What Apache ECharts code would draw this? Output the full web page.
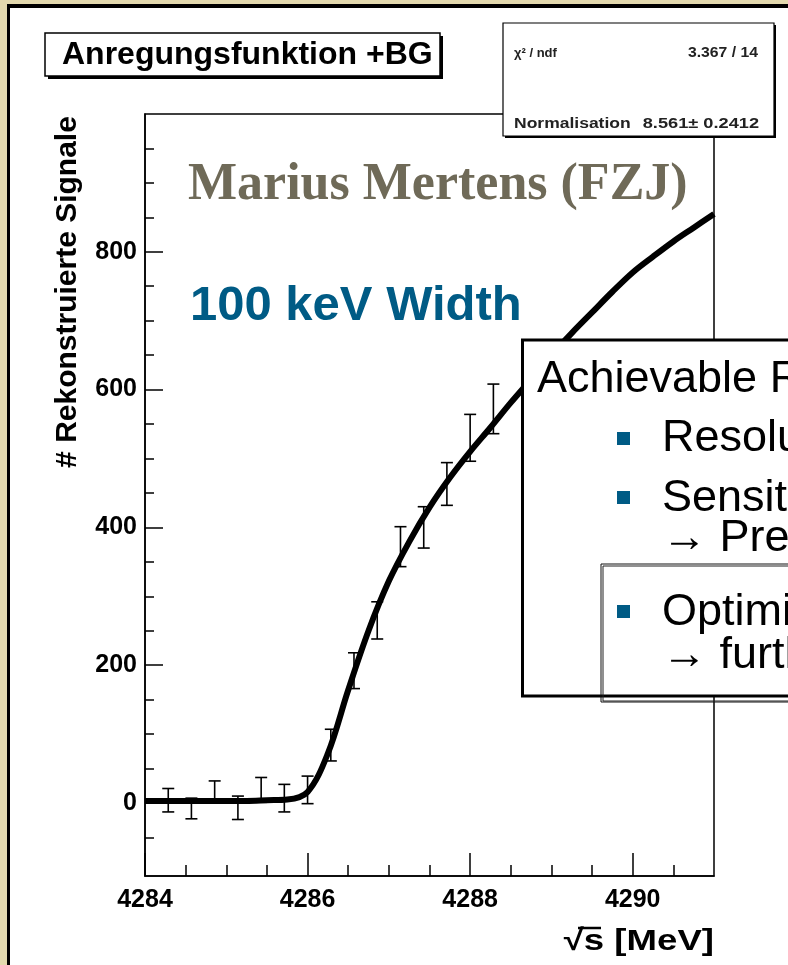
<!DOCTYPE html>
<html>
<head>
<meta charset="utf-8">
<script src="https://cdn.jsdelivr.net/npm/echarts@6/dist/echarts.min.js"></script>
<style>
  html, body { margin: 0; padding: 0; background: #fff; }
  #chart { width: 788px; height: 965px; }
</style>
</head>
<body>
<div id="chart"></div>
<script>
// Measured excitation function: beam energy sqrt(s) [MeV], reconstructed signals, errors
const energies = [4284.286, 4284.571, 4284.857, 4285.143, 4285.429, 4285.714, 4286.0,
                  4286.286, 4286.571, 4286.857, 4287.143, 4287.429, 4287.714, 4288.0, 4288.286];
const signals  = [4, -8, 16, -7, 19, 7, 19, 84, 192, 265, 372, 400, 463, 530, 572];
const errors   = [17, 15, 16, 17, 18, 20, 20, 23, 26, 27, 29, 30, 31, 34, 36];

// Fitted excitation function + background, sampled every 0.25 MeV
const fitEnergies = [4284.0, 4284.25, 4284.5, 4284.75, 4285.0, 4285.25, 4285.5, 4285.75,
                     4286.0, 4286.25, 4286.5, 4286.75, 4287.0, 4287.25, 4287.5, 4287.75,
                     4288.0, 4288.25, 4288.5, 4288.75, 4289.0, 4289.25, 4289.5, 4289.75,
                     4290.0, 4290.25, 4290.5, 4290.75, 4291.0];
const fitValues   = [3, 3, 3, 3, 3, 3, 4, 5,
                     16, 72, 164, 250, 322, 379, 429, 472,
                     510, 545, 581, 615, 650, 682, 712, 742,
                     770, 793, 815, 835, 855];

// Axis ticks
const xMajorTicks = [4284, 4286, 4288, 4290];
const xMinorTicks = [4284.5, 4285, 4285.5, 4286.5, 4287, 4287.5, 4288.5, 4289, 4289.5, 4290.5];
const yMajorTicks = [0, 200, 400, 600, 800];
const yMinorTicks = [-50, 50, 100, 150, 250, 300, 350, 450, 500, 550, 650, 700, 750, 850, 900, 950];

const X_MIN = 4284, X_MAX = 4291, Y_MIN = -106, Y_MAX = 1000;

const TEAL = '#005b85';
const SANS = 'Liberation Sans, Arial, Helvetica, sans-serif';
const SERIF = 'Liberation Serif, Times New Roman, serif';

const chart = echarts.init(document.getElementById('chart'), null, { renderer: 'canvas' });

const tickFont = { fontFamily: SANS, fontWeight: 'bold', fontSize: 25, color: '#000',
                   formatter: function (v) { return String(v); } };

function majorAxis(extra) {
  return Object.assign({
    type: 'value',
    axisLine: { show: true, onZero: false, lineStyle: { color: '#000', width: 1.5 } },
    splitLine: { show: false },
  }, extra);
}

function minorAxis(extra) {
  return Object.assign({
    type: 'value',
    axisLine: { show: false, onZero: false },
    splitLine: { show: false },
    axisLabel: { show: false }
  }, extra);
}

const errorData = energies.map((e, i) => [e, signals[i], errors[i]]);
const fitData = fitEnergies.map((e, i) => [e, fitValues[i]]);

const option = {
  backgroundColor: '#fff',
  animation: false,
  grid: {
    left: 145, right: 74, top: 114, bottom: 89,
    show: true, borderColor: '#000', borderWidth: 1.5, backgroundColor: 'transparent'
  },
  xAxis: [
    majorAxis({
      min: X_MIN, max: X_MAX, position: 'bottom',
      axisTick: { show: true, inside: true, length: 23, customValues: xMajorTicks,
                  lineStyle: { color: '#000', width: 1.5 } },
      axisLabel: Object.assign({ show: true, margin: 12, customValues: xMajorTicks }, tickFont)
    }),
    minorAxis({
      min: X_MIN, max: X_MAX, position: 'bottom',
      axisTick: { show: true, inside: true, length: 11, customValues: xMinorTicks,
                  lineStyle: { color: '#000', width: 1.5 } }
    })
  ],
  yAxis: [
    majorAxis({
      min: Y_MIN, max: Y_MAX, position: 'left',
      axisTick: { show: true, inside: true, length: 18, customValues: yMajorTicks,
                  lineStyle: { color: '#000', width: 1.5 } },
      axisLabel: Object.assign({ show: true, margin: 8, customValues: yMajorTicks }, tickFont)
    }),
    minorAxis({
      min: Y_MIN, max: Y_MAX, position: 'left',
      axisTick: { show: true, inside: true, length: 9, customValues: yMinorTicks,
                  lineStyle: { color: '#000', width: 1.5 } }
    })
  ],
  series: [
    {
      name: 'Fit',
      type: 'line',
      xAxisIndex: 0, yAxisIndex: 0,
      data: fitData,
      smooth: 0.35,
      showSymbol: false,
      lineStyle: { color: '#000', width: 6 },
      z: 3
    },
    {
      name: 'Data',
      type: 'custom',
      xAxisIndex: 0, yAxisIndex: 0,
      data: errorData,
      z: 4,
      renderItem: function (params, api) {
        const x = api.value(0), y = api.value(1), err = api.value(2);
        const top = api.coord([x, y + err]);
        const bot = api.coord([x, y - err]);
        const cap = 6;
        const st = { stroke: '#000', lineWidth: 1.6 };
        return {
          type: 'group',
          children: [
            { type: 'line', shape: { x1: top[0], y1: top[1], x2: bot[0], y2: bot[1] }, style: st },
            { type: 'line', shape: { x1: top[0] - cap, y1: top[1], x2: top[0] + cap, y2: top[1] }, style: st },
            { type: 'line', shape: { x1: bot[0] - cap, y1: bot[1], x2: bot[0] + cap, y2: bot[1] }, style: st }
          ]
        };
      }
    }
  ],
  graphic: [
    // slide frame: beige margin with dark rule
    { type: 'rect', z: -20, silent: true, shape: { x: 0, y: 0, width: 788, height: 965 }, style: { fill: '#e3d9ae' } },
    { type: 'rect', z: -19, silent: true, shape: { x: 10, y: 8, width: 778, height: 957 }, style: { fill: '#fff' } },
    { type: 'rect', z: -18, silent: true, shape: { x: 7, y: 4, width: 781, height: 4 }, style: { fill: '#000' } },
    { type: 'rect', z: -18, silent: true, shape: { x: 7, y: 4, width: 3, height: 961 }, style: { fill: '#000' } },

    // histogram title box with shadow
    { type: 'rect', z: 30, shape: { x: 48, y: 36, width: 395, height: 43 }, style: { fill: '#000' } },
    { type: 'rect', z: 31, shape: { x: 45, y: 33, width: 395, height: 43 }, style: { fill: '#fff', stroke: '#000', lineWidth: 1.5 } },
    { type: 'text', z: 32, x: 62, y: 55,
      style: { text: 'Anregungsfunktion +BG', fontFamily: SANS, fontWeight: 'bold', fontSize: 32,
               fill: '#000', verticalAlign: 'middle', align: 'left' } },

    // fit statistics box with shadow
    { type: 'rect', z: 30, shape: { x: 505, y: 25, width: 271, height: 113 }, style: { fill: '#000' } },
    { type: 'rect', z: 31, shape: { x: 503, y: 23, width: 271, height: 113 }, style: { fill: '#fff', stroke: '#000', lineWidth: 1.2 } },
    { type: 'text', z: 32, x: 514, y: 53,
      style: { text: 'χ² / ndf', fontFamily: SANS, fontWeight: 'bold', fontSize: 13, fill: '#222', verticalAlign: 'middle', align: 'left' } },
    { type: 'text', z: 32, x: 758, y: 53, scaleX: 1.05,
      style: { text: '3.367 / 14', fontFamily: SANS, fontWeight: 'bold', fontSize: 15, fill: '#222', verticalAlign: 'middle', align: 'right' } },
    { type: 'text', z: 32, x: 514, y: 124, scaleX: 1.25,
      style: { text: 'Normalisation', fontFamily: SANS, fontWeight: 'bold', fontSize: 14, fill: '#222', verticalAlign: 'middle', align: 'left' } },
    { type: 'text', z: 32, x: 759, y: 124, scaleX: 1.3,
      style: { text: '8.561± 0.2412', fontFamily: SANS, fontWeight: 'bold', fontSize: 14, fill: '#222', verticalAlign: 'middle', align: 'right' } },

    // axis titles
    { type: 'text', z: 10, x: 68, y: 292, rotation: Math.PI / 2,
      style: { text: '# Rekonstruierte Signale', fontFamily: SANS, fontWeight: 'bold', fontSize: 30,
               fill: '#000', verticalAlign: 'middle', align: 'center' } },
    { type: 'text', z: 10, x: 714, y: 942, scaleX: 1.22,
      style: { text: '√s [MeV]', fontFamily: SANS, fontWeight: 'bold', fontSize: 30,
               fill: '#000', verticalAlign: 'middle', align: 'right' } },
    { type: 'line', z: 10, shape: { x1: 578, y1: 928, x2: 601, y2: 928 },
      style: { stroke: '#000', lineWidth: 2.5 } },

    // annotations
    { type: 'text', z: 10, x: 188, y: 186,
      style: { text: 'Marius Mertens (FZJ)', fontFamily: SERIF, fontWeight: 'bold', fontSize: 52,
               fill: '#6f6a58', verticalAlign: 'middle', align: 'left' } },
    { type: 'text', z: 10, x: 190, y: 306,
      style: { text: '100 keV Width', fontFamily: SANS, fontWeight: 'bold', fontSize: 49,
               fill: TEAL, verticalAlign: 'middle', align: 'left' } },

    // summary box
    { type: 'rect', z: 40, shape: { x: 522.5, y: 340, width: 300, height: 356 },
      style: { fill: '#fff', stroke: '#000', lineWidth: 3 } },
    { type: 'text', z: 41, x: 537, y: 380,
      style: { text: 'Achievable Results', fontFamily: SANS, fontSize: 45, fill: '#000', verticalAlign: 'middle' } },
    { type: 'rect', z: 41, shape: { x: 617, y: 432, width: 13, height: 13 }, style: { fill: TEAL } },
    { type: 'text', z: 41, x: 662, y: 439,
      style: { text: 'Resolution', fontFamily: SANS, fontSize: 45, fill: '#000', verticalAlign: 'middle' } },
    { type: 'rect', z: 41, shape: { x: 617, y: 491, width: 13, height: 13 }, style: { fill: TEAL } },
    { type: 'text', z: 41, x: 662, y: 499,
      style: { text: 'Sensitivity', fontFamily: SANS, fontSize: 45, fill: '#000', verticalAlign: 'middle' } },
    { type: 'text', z: 41, x: 662, y: 539,
      style: { text: '→ Precision', fontFamily: SANS, fontSize: 45, fill: '#000', verticalAlign: 'middle' } },
    { type: 'rect', z: 42, shape: { x: 601, y: 564, width: 220, height: 138 },
      style: { fill: 'none', stroke: '#111', lineWidth: 1 } },
    { type: 'rect', z: 42, shape: { x: 603, y: 566, width: 220, height: 135 },
      style: { fill: 'none', stroke: '#222', lineWidth: 1 } },
    { type: 'rect', z: 41, shape: { x: 617, y: 605, width: 13, height: 13 }, style: { fill: TEAL } },
    { type: 'text', z: 41, x: 662, y: 613,
      style: { text: 'Optimization', fontFamily: SANS, fontSize: 45, fill: '#000', verticalAlign: 'middle' } },
    { type: 'text', z: 41, x: 662, y: 656,
      style: { text: '→ further', fontFamily: SANS, fontSize: 45, fill: '#000', verticalAlign: 'middle' } }
  ]
};

chart.setOption(option);
</script>
</body>
</html>
